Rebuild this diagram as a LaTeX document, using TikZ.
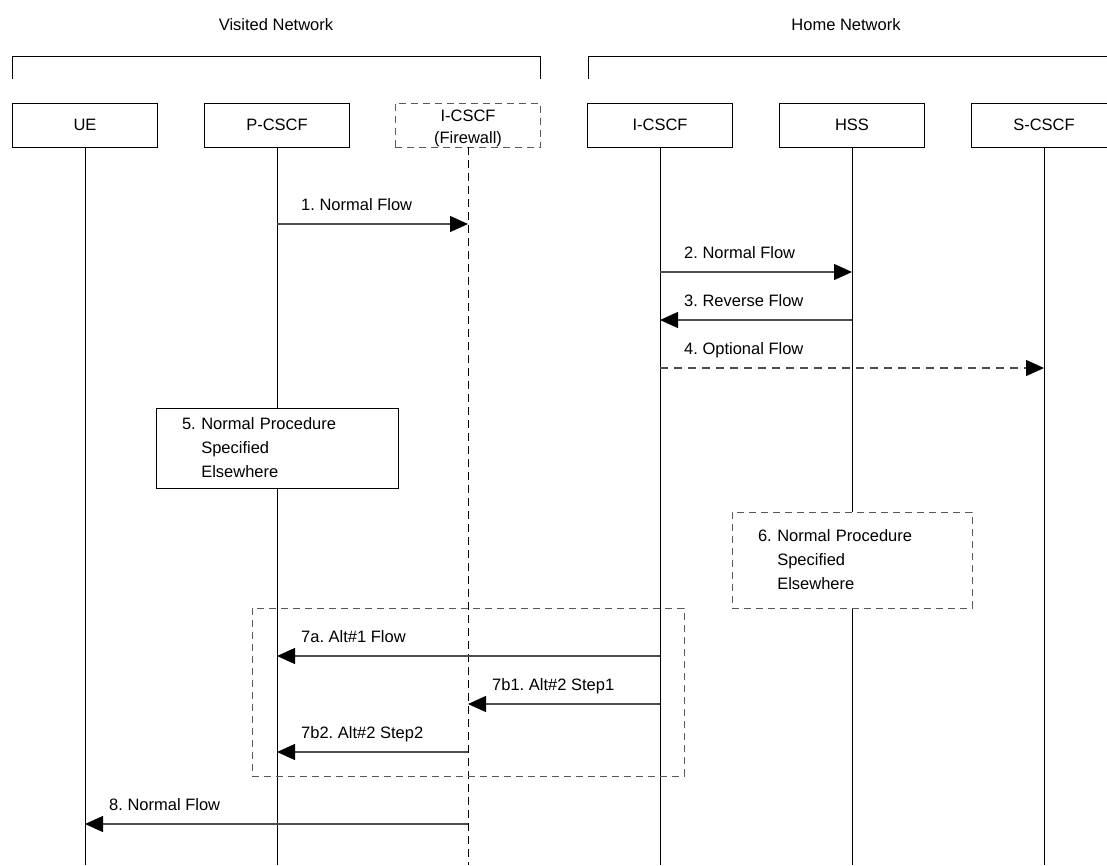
\documentclass[tikz,border=0pt]{standalone}
\usepackage{fontspec}
\setmainfont{Liberation Sans}
\usetikzlibrary{arrows.meta}
\frenchspacing

\tikzset{
  entity/.style={draw=black, fill=white, minimum width=145pt, minimum height=44pt,
    inner sep=0pt, align=center, font=\fontsize{16.5}{19}\selectfont},
  dashbox/.style={draw=black!65, dash pattern=on 7pt off 5pt},
  life/.style={draw=black, line width=0.8pt},
  msg/.style={draw=black!70, line width=1.1pt,
    -{Triangle[length=18pt,width=16pt,color=black]}},
  lbl/.style={anchor=base west, inner sep=0pt, font=\fontsize{16.5}{19}\selectfont},
  proc/.style={draw=black, fill=white, align=left, inner xsep=26pt, inner ysep=0pt,
    font=\fontsize{16.5}{24}\selectfont},
}

\begin{document}
\begin{tikzpicture}[x=1pt, y=-1pt]
  \useasboundingbox (0,0) rectangle (1107,865);

  % network headings and brackets
  \node[font=\fontsize{16.5}{19}\selectfont] (visited) at (276,25) {Visited Network};
  \node[font=\fontsize{16.5}{19}\selectfont] (home) at (846,25) {Home Network};
  \draw[line width=0.9pt] (12,79) -- (12,56) -- (540,56) -- (540,79);
  \draw[line width=0.9pt] (588,79) -- (588,56) -- (1110,56);

  % entities
  \node[entity] (ue) at (85,125) {UE};
  \node[entity] (pcscf) at (277,125) {P-CSCF};
  \node[entity, draw=none, font=\fontsize{16.5}{22}\selectfont] (fw) at (468,128) {I-CSCF\\(Firewall)};
  \node[entity] (icscf) at (660,125) {I-CSCF};
  \node[entity] (hss) at (852,125) {HSS};
  \node[entity] (scscf) at (1044,125) {S-CSCF};
  \draw[dashbox, line width=0.9pt] (fw.west |- 0,147) rectangle (fw.east |- 0,103);

  % lifelines
  \foreach \n in {ue,pcscf,icscf,hss,scscf}
    \draw[life] (\n.south) -- (\n.south |- 0,865);
  \draw[life, dash pattern=on 8pt off 5pt] (fw |- 0,147) -- (fw |- 0,865);

  % procedure boxes
  \node[proc, text width=190pt, minimum height=80pt] (proc5) at (277,448)
    {5. Normal Procedure\\\phantom{5. }Specified\\\phantom{5. }Elsewhere};
  \node[proc, dashbox, text width=188pt, minimum height=96pt] (proc6) at (852,560)
    {6. Normal Procedure\\\phantom{6. }Specified\\\phantom{6. }Elsewhere};

  % alternative group
  \draw[dashbox, line width=0.9pt] (252,608) rectangle (684,776);

  % messages
  \draw[msg] (pcscf |- 0,224) -- (fw |- 0,224);
  \path (pcscf |- 0,224) ++(24,-14) node[lbl] {1. Normal Flow};
  \draw[msg] (icscf |- 0,272) -- (hss |- 0,272);
  \path (icscf |- 0,272) ++(24,-14) node[lbl] {2. Normal Flow};
  \draw[msg] (hss |- 0,320) -- (icscf |- 0,320);
  \path (icscf |- 0,320) ++(24,-14) node[lbl] {3. Reverse Flow};
  \draw[msg, dash pattern=on 8pt off 6pt] (icscf |- 0,368) -- (scscf |- 0,368);
  \path (icscf |- 0,368) ++(24,-14) node[lbl] {4. Optional Flow};
  \draw[msg] (icscf |- 0,656) -- (pcscf |- 0,656);
  \path (pcscf |- 0,656) ++(24,-14) node[lbl] {7a. Alt\#1 Flow};
  \draw[msg] (icscf |- 0,704) -- (fw |- 0,704);
  \path (fw |- 0,704) ++(24,-14) node[lbl] {7b1. Alt\#2 Step1};
  \draw[msg] (fw |- 0,752) -- (pcscf |- 0,752);
  \path (pcscf |- 0,752) ++(24,-14) node[lbl] {7b2. Alt\#2 Step2};
  \draw[msg] (fw |- 0,824) -- (ue |- 0,824);
  \path (ue |- 0,824) ++(24,-14) node[lbl] {8. Normal Flow};
\end{tikzpicture}
\end{document}
